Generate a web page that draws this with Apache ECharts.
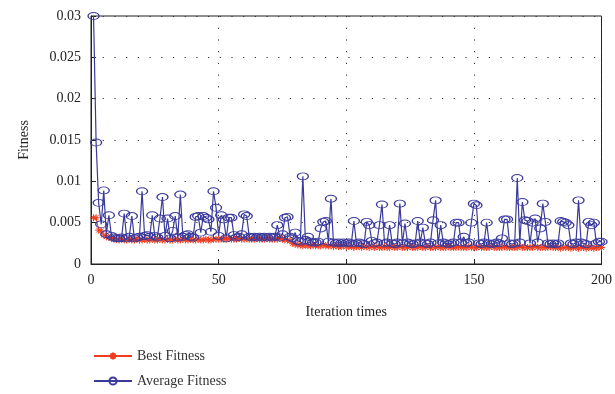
<!DOCTYPE html>
<html>
<head>
<meta charset="utf-8">
<script src="https://cdn.jsdelivr.net/npm/echarts@6/dist/echarts.min.js"></script>
<style>
html,body{margin:0;padding:0;background:#fff;}
#c{width:615px;height:394px;}
</style>
</head>
<body>
<div id="c"></div>
<script>
var xTicks = [0, 50, 100, 150, 200];
var yTicks = [0, 0.005, 0.01, 0.015, 0.02, 0.025, 0.03];
var seriesNames = ['Best Fitness', 'Average Fitness'];

var bestFitness = [
0.0056,0.0056,0.0041,0.0040,0.0035,0.0033,0.0032,0.0031,0.0030,0.0030,
0.0029,0.0030,0.0029,0.0029,0.0030,0.0029,0.0029,0.0030,0.0029,0.0029,
0.0030,0.0029,0.0029,0.0030,0.0029,0.0029,0.0030,0.0029,0.0029,0.0030,
0.0029,0.0029,0.0030,0.0029,0.0029,0.0030,0.0029,0.0029,0.0030,0.0029,
0.0029,0.0030,0.0029,0.0029,0.0030,0.0029,0.0029,0.0030,0.0030,0.0030,
0.0030,0.0030,0.0030,0.0031,0.0030,0.0030,0.0030,0.0031,0.0030,0.0030,
0.0031,0.0030,0.0030,0.0030,0.0031,0.0030,0.0030,0.0030,0.0031,0.0030,
0.0030,0.0030,0.0030,0.0031,0.0030,0.0029,0.0029,0.0028,0.0025,0.0024,
0.0023,0.0023,0.0022,0.0023,0.0022,0.0022,0.0023,0.0022,0.0022,0.0022,
0.0023,0.0022,0.0022,0.0022,0.0021,0.0022,0.0021,0.0021,0.0022,0.0021,
0.0021,0.0021,0.0020,0.0021,0.0021,0.0020,0.0021,0.0021,0.0020,0.0021,
0.0020,0.0021,0.0020,0.0020,0.0021,0.0020,0.0020,0.0021,0.0020,0.0020,
0.0021,0.0020,0.0020,0.0020,0.0021,0.0020,0.0020,0.0020,0.0021,0.0020,
0.0020,0.0021,0.0020,0.0020,0.0020,0.0021,0.0020,0.0020,0.0020,0.0021,
0.0020,0.0020,0.0020,0.0021,0.0020,0.0020,0.0020,0.0021,0.0020,0.0020,
0.0020,0.0021,0.0020,0.0020,0.0020,0.0020,0.0021,0.0020,0.0020,0.0020,
0.0020,0.0021,0.0020,0.0020,0.0020,0.0020,0.0020,0.0021,0.0020,0.0020,
0.0020,0.0020,0.0020,0.0021,0.0020,0.0020,0.0020,0.0020,0.0020,0.0021,
0.0020,0.0020,0.0020,0.0019,0.0020,0.0020,0.0020,0.0019,0.0020,0.0020,
0.0019,0.0020,0.0020,0.0019,0.0020,0.0020,0.0019,0.0020,0.0020,0.0020
];

var averageFitness = [
0.0300,0.0147,0.0074,0.0048,0.0089,0.0036,0.0059,0.0034,0.0032,0.0031,
0.0031,0.0032,0.0061,0.0031,0.0033,0.0058,0.0031,0.0032,0.0033,0.0088,
0.0034,0.0035,0.0033,0.0059,0.0034,0.0032,0.0055,0.0081,0.0034,0.0055,
0.0031,0.0040,0.0058,0.0032,0.0084,0.0033,0.0035,0.0036,0.0033,0.0032,
0.0057,0.0058,0.0038,0.0058,0.0056,0.0054,0.0039,0.0088,0.0068,0.0034,
0.0059,0.0054,0.0031,0.0056,0.0056,0.0035,0.0032,0.0033,0.0036,0.0060,
0.0058,0.0033,0.0032,0.0033,0.0032,0.0033,0.0032,0.0033,0.0032,0.0033,
0.0032,0.0033,0.0047,0.0032,0.0036,0.0056,0.0057,0.0033,0.0031,0.0038,
0.0028,0.0027,0.0106,0.0029,0.0033,0.0027,0.0026,0.0026,0.0027,0.0043,
0.0051,0.0052,0.0027,0.0079,0.0026,0.0025,0.0026,0.0025,0.0026,0.0025,
0.0026,0.0025,0.0052,0.0025,0.0026,0.0025,0.0024,0.0051,0.0047,0.0028,
0.0025,0.0026,0.0047,0.0072,0.0025,0.0026,0.0047,0.0025,0.0024,0.0026,
0.0073,0.0025,0.0049,0.0026,0.0025,0.0024,0.0025,0.0052,0.0026,0.0044,
0.0025,0.0024,0.0026,0.0053,0.0077,0.0025,0.0047,0.0026,0.0025,0.0024,
0.0025,0.0026,0.0050,0.0050,0.0026,0.0033,0.0025,0.0026,0.0050,0.0073,
0.0071,0.0025,0.0024,0.0026,0.0050,0.0025,0.0024,0.0025,0.0026,0.0025,
0.0031,0.0054,0.0054,0.0025,0.0024,0.0025,0.0104,0.0026,0.0075,0.0053,
0.0052,0.0025,0.0050,0.0055,0.0026,0.0043,0.0073,0.0051,0.0025,0.0024,
0.0025,0.0024,0.0025,0.0052,0.0051,0.0050,0.0047,0.0025,0.0024,0.0026,
0.0077,0.0026,0.0025,0.0024,0.0051,0.0047,0.0050,0.0025,0.0027,0.0027
];

function pairs(arr){
  var out = [];
  for (var i = 0; i < arr.length; i++) out.push([i + 1, arr[i]]);
  return out;
}

var font = 'Liberation Serif';
var chart = echarts.init(document.getElementById('c'), null, {renderer: 'canvas'});
var asterisk = 'path://M0,5 L10,5 M5,0 L5,10 M1.5,1.5 L8.5,8.5 M8.5,1.5 L1.5,8.5';

chart.setOption({
  animation: false,
  backgroundColor: '#fff',
  textStyle: {fontFamily: font},
  grid: {left: 91, right: 13, top: 16, bottom: 130, show: true, borderColor: '#222', borderWidth: 1},
  legend: {
    orient: 'vertical',
    left: 88, top: 344,
    itemWidth: 38, itemHeight: 9, itemGap: 11,
    textStyle: {fontFamily: font, fontSize: 14, color: '#333'},
    data: seriesNames
  },
  xAxis: {
    type: 'value', min: xTicks[0], max: xTicks[xTicks.length - 1], interval: 50,
    name: 'Iteration times', nameLocation: 'middle', nameGap: 41,
    nameTextStyle: {fontFamily: font, fontSize: 14, color: '#222'},
    axisLine: {lineStyle: {color: '#222'}},
    axisTick: {inside: true, length: 5, lineStyle: {color: '#222'}},
    axisLabel: {fontFamily: font, fontSize: 14, color: '#222', margin: 9},
    splitLine: {show: true, lineStyle: {color: '#333', type: [1.2, 10.5], width: 1}}
  },
  yAxis: {
    type: 'value', min: yTicks[0], max: yTicks[yTicks.length - 1], interval: 0.005,
    name: 'Fitness', nameLocation: 'middle', nameGap: 60,
    nameTextStyle: {fontFamily: font, fontSize: 14, color: '#222'},
    axisLine: {lineStyle: {color: '#222'}},
    axisTick: {inside: true, length: 5, lineStyle: {color: '#222'}},
    axisLabel: {fontFamily: font, fontSize: 14, color: '#222', margin: 10},
    splitLine: {show: true, lineStyle: {color: '#333', type: [1.2, 10.5], width: 1}}
  },
  series: [
    {
      name: seriesNames[0], type: 'line', data: pairs(bestFitness),
      symbol: asterisk, symbolSize: 7, showAllSymbol: true,
      lineStyle: {color: '#f03c1e', width: 1},
      itemStyle: {color: '#f03c1e', borderColor: '#f03c1e', borderWidth: 1}
    },
    {
      name: seriesNames[1], type: 'line', data: pairs(averageFitness),
      symbol: 'circle', symbolSize: [11, 7], showAllSymbol: true,
      lineStyle: {color: '#3a3a9c', width: 1.2},
      itemStyle: {color: 'rgba(0,0,0,0)', borderColor: '#3a3a9c', borderWidth: 1.1}
    }
  ]
});
</script>
</body>
</html>
